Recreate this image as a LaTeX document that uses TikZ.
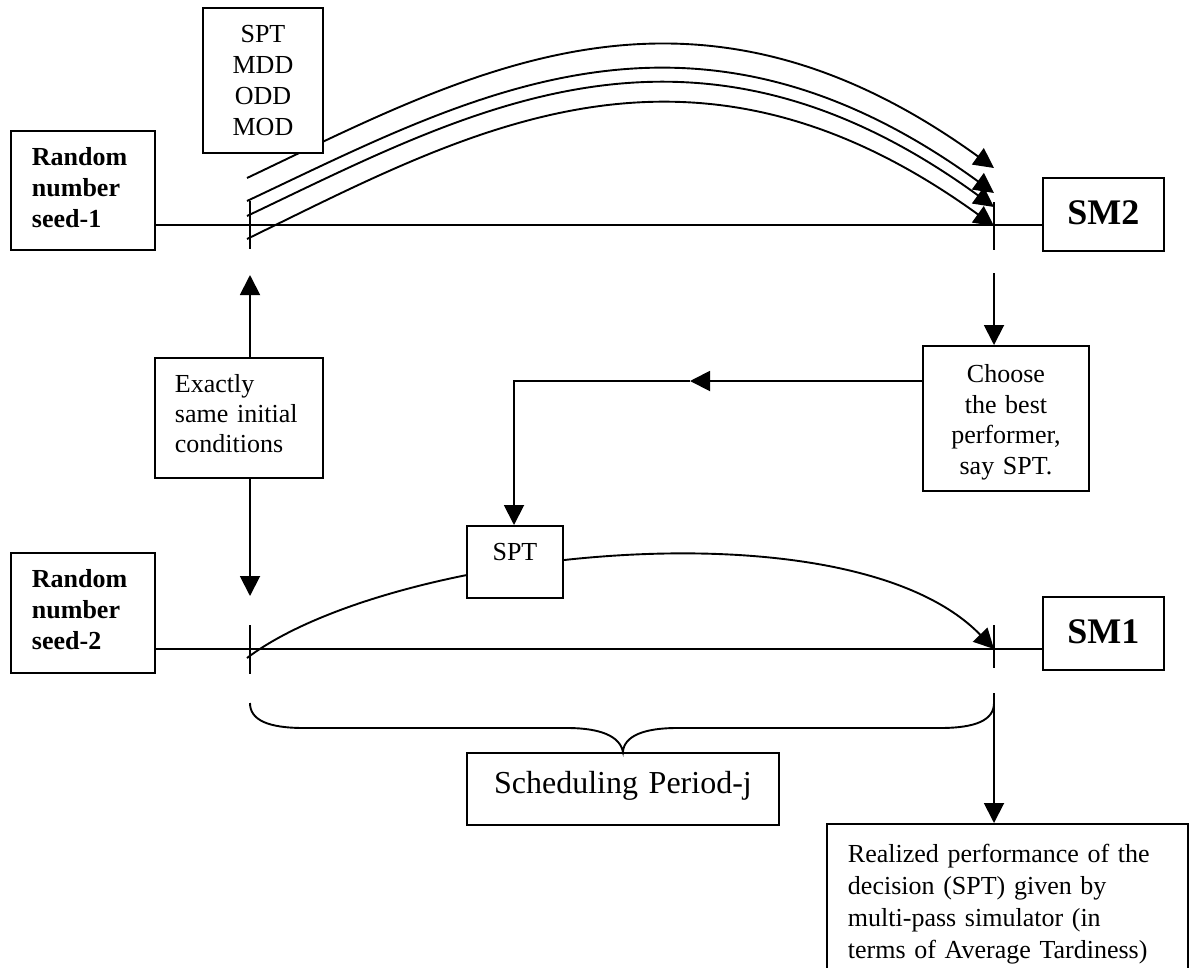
\documentclass[tikz,border=0pt]{standalone}
\usepackage{fontspec}
\setmainfont{Liberation Serif}
\usetikzlibrary{arrows.meta}
\begin{document}
\begin{tikzpicture}[x=1pt,y=-1pt,
  ln/.style={line width=1.9pt},
  arr/.style={ln,-{Triangle[length=20pt,width=20pt]}},
  box/.style={draw,line width=1.9pt,fill=white,anchor=north west,
    inner xsep=4pt,inner ysep=0pt,font=\fontsize{26}{31}\selectfont},
  boldtxt/.style={font=\fontsize{26}{31}\selectfont\bfseries},
  smtxt/.style={font=\fontsize{36}{40}\selectfont\bfseries},
]
\useasboundingbox (0,0) rectangle (1196,967);

% points on the two time lines
\coordinate (tl) at (250,225);
\coordinate (tr) at (994,225);
\coordinate (bl) at (250,649);
\coordinate (br) at (994,649);

% four candidate rules simulated over the period
\draw[arr] (247,178) .. controls (470,72)  and (690,-52) .. (994,168);
\draw[arr] (247,201) .. controls (470,96)  and (690,-28) .. (994,193);
\draw[arr] (247,216) .. controls (470,110) and (690,-14) .. (994,207);
\draw[arr] (247,239) .. controls (470,130) and (690,6)   .. (994,226);

% chosen rule applied over the period
\draw[arr] (247,658) .. controls (390,550) and (850,500) .. (994,649);

% boxes
\node[box,text width=112pt,align=center,text height=35pt,text depth=110pt] (rules) at (202,7) {SPT\\MDD\\ODD\\MOD};
\node[box,boldtxt,inner xsep=21pt,text width=102pt,align=left,text height=35pt,text depth=84pt] (seed1) at (10,130) {Random\\number\\seed-1};
\node[box,boldtxt,inner xsep=21pt,text width=102pt,align=left,text height=35pt,text depth=85pt] (seed2) at (10,552) {Random\\number\\seed-2};
\node[box,smtxt,text width=113pt,align=center,text height=47pt,text depth=26pt] (sm2) at (1042,177) {SM2};
\node[box,smtxt,text width=113pt,align=center,text height=47pt,text depth=26pt] (sm1) at (1042,596) {SM1};
\node[box,font=\fontsize{26}{30}\selectfont,inner xsep=20pt,text width=128pt,align=left,text height=35pt,text depth=85pt] (exact) at (154,357) {Exactly\\same initial\\conditions};
\node[box,font=\fontsize{26}{30.5}\selectfont,text width=158pt,align=center,text height=37pt,text depth=108pt] (choose) at (922,345) {Choose\\the best\\performer,\\say SPT.};
\node[box,text width=88pt,align=center,text height=35pt,text depth=37pt] (spt) at (466,525) {SPT};
\node[box,font=\fontsize{32}{38}\selectfont,text width=304pt,align=center,text height=41pt,text depth=31pt] (sched) at (466,752) {Scheduling Period-j};
\node[box,font=\fontsize{26}{32}\selectfont,inner xsep=21pt,text width=319pt,align=left,text height=39pt,text depth=160pt] (result) at (826,823) {Realized performance of the\\decision (SPT) given by\\multi-pass simulator (in\\terms of Average Tardiness)};

% time lines
\draw[ln] (seed1.east |- tl) -- (sm2.west |- tl);
\draw[ln] (seed2.east |- bl) -- (sm1.west |- bl);

% period start and end marks
\draw[ln] (250,201) -- (250,249);
\draw[ln] (994,202) -- (994,250);
\draw[ln] (250,625) -- (250,674);
\draw[ln] (994,625) -- (994,668);

% same initial conditions
\coordinate (upTip) at (250,275);
\coordinate (downTip) at (250,596);
\draw[arr] (exact.north -| upTip) -- (upTip);
\draw[arr] (exact.south -| downTip) -- (downTip);

% choice of the best rule
\coordinate (gapR) at (994,273);
\draw[arr] (gapR) -- (choose.north -| gapR);
\coordinate (turn) at (514,381);
\coordinate (midTip) at (690,381);
\draw[arr] (choose.west |- turn) -- (midTip);
\draw[arr] (midTip) -- (turn) -- (turn |- spt.north);

% brace over the scheduling period
\draw[ln] (250,703) .. controls (250,720) and (268,728) .. (304,728) -- (567,728)
  .. controls (600,728) and (620,736) .. (sched.north)
  .. controls (624,736) and (644,728) .. (677,728) -- (940,728)
  .. controls (976,728) and (994,720) .. (994,703);

% realized performance
\coordinate (gapB) at (994,693);
\draw[arr] (gapB) -- (result.north -| gapB);
\end{tikzpicture}
\end{document}
